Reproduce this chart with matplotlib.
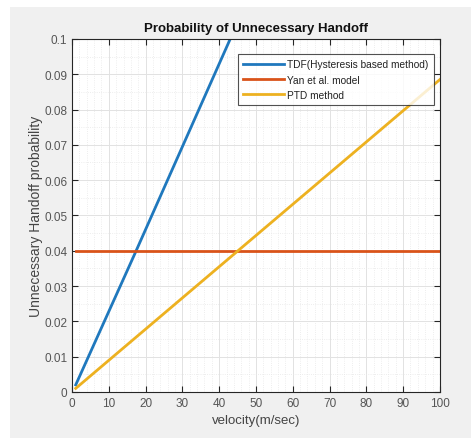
import matplotlib
matplotlib.use("Agg")
import matplotlib.pyplot as plt
from matplotlib.patches import Rectangle
from matplotlib.ticker import MultipleLocator

# ── Data ──────────────────────────────────────────────────────────────────
tdf_v   = [1, 17, 43]
tdf_p   = [0.002, 0.039, 0.1]
yan_v   = [1, 100]
yan_p   = [0.04, 0.04]
ptd_v   = [1, 45, 100]
ptd_p   = [0.001, 0.0399, 0.0885]

labels = ["TDF(Hysteresis based method)", "Yan et al. model", "PTD method"]
colors = ["#1f78bd", "#D95319", "#EDB120"]

plt.rcParams["font.family"] = ["Liberation Sans", "DejaVu Sans"]

fig = plt.figure(figsize=(4.71, 4.39), dpi=100, facecolor="#f0f0f0")
# white strips of the screenshot border
fig.patches.append(Rectangle((0, 0.982), 1, 0.018, transform=fig.transFigure,
                             facecolor="white", edgecolor="none", zorder=-1))
fig.patches.append(Rectangle((0, 0), 0.021, 1, transform=fig.transFigure,
                             facecolor="white", edgecolor="none", zorder=-1))

ax = fig.add_axes([0.153, 0.105, 0.781, 0.804])
ax.set_facecolor("white")

ax.plot(tdf_v, tdf_p, color=colors[0], lw=2, label=labels[0])
ax.plot(yan_v, yan_p, color=colors[1], lw=2, label=labels[1])
ax.plot(ptd_v, ptd_p, color=colors[2], lw=2, label=labels[2])

ax.set_xlim(0, 100)
ax.set_ylim(0, 0.1)
ax.xaxis.set_major_locator(MultipleLocator(10))
ax.xaxis.set_minor_locator(MultipleLocator(2))
ax.yaxis.set_minor_locator(MultipleLocator(0.005))
ax.set_yticks([i / 100 for i in range(11)])
ax.set_yticklabels(["0"] + [f"{i/100:g}" for i in range(1, 11)])

ax.grid(True, which="major", color="#e2e2e2", lw=0.7)
ax.grid(True, which="minor", color="#e8e8e8", lw=0.6, ls=":")
ax.set_axisbelow(True)

ax.tick_params(which="both", direction="in", top=True, right=True,
               colors="#262626", labelcolor="#555555", labelsize=8.5)
ax.tick_params(which="major", length=4)
ax.tick_params(which="minor", length=0)
for s in ax.spines.values():
    s.set_color("#262626")
    s.set_linewidth(0.8)

ax.set_title("Probability of Unnecessary Handoff", fontsize=9.5,
             fontweight="bold", color="#111111", pad=6)
ax.set_xlabel("velocity(m/sec)", fontsize=9.5, color="#444444", labelpad=4)
ax.set_ylabel("Unnecessary Handoff probability", fontsize=10,
              color="#444444", labelpad=1)

leg = ax.legend(loc="upper right", bbox_to_anchor=(0.997, 0.972), fontsize=7.3,
                frameon=True, fancybox=False, edgecolor="#262626",
                handlelength=4.0, handletextpad=0.3, borderpad=0.55,
                labelspacing=0.5)
leg.get_frame().set_linewidth(0.8)
for t in leg.get_texts():
    t.set_color("#222222")

plt.savefig("out.png", dpi=100, facecolor=fig.get_facecolor())
plt.close()
